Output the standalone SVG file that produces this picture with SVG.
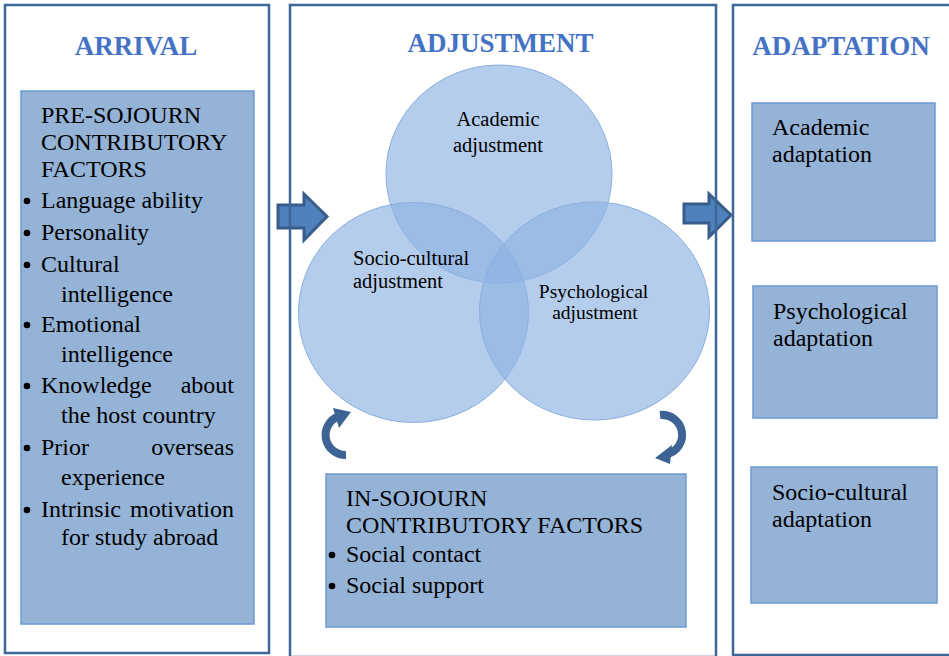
<svg xmlns="http://www.w3.org/2000/svg" width="949" height="656" viewBox="0 0 949 656">
<style>
.panel{fill:none;stroke:#3f6699;stroke-width:2.5}
.box{fill:#95b3d7;stroke:#6b9bd4;stroke-width:1.5}
.title{font-family:"Liberation Serif",serif;font-weight:bold;font-size:27px;fill:#4472c4;text-anchor:middle}
.t{font-family:"Liberation Serif",serif;font-size:24px;fill:#000}
.c{font-family:"Liberation Serif",serif;font-size:20.5px;fill:#000}
.cs{font-family:"Liberation Serif",serif;font-size:19.5px;fill:#000;text-anchor:middle}
.venn{fill:#8db2e2;fill-opacity:0.65;stroke:#8aaedd;stroke-width:1}
.big{fill:#4f81bd;stroke:#385d8a;stroke-width:3;stroke-linejoin:miter}
.curve{fill:none;stroke:#3d6394;stroke-width:8}
.head{fill:#3d6394}
</style>
<rect width="949" height="656" fill="#fff"/>

<g id="connectors">
  <path class="big" d="M278 205 L304 205 L304 194 L327 216.5 L304 240 L304 228 L278 228 Z"/>
  <path class="big" d="M684 204 L709 204 L709 194 L731 215 L709 237 L709 223 L684 223 Z"/>
  <path class="curve" d="M346 455 A 20 20 0 0 1 338 416.5"/>
  <polygon class="head" points="351,412 333,408 339,428"/>
  <path class="curve" d="M660 415 A 20 20 0 0 1 668 454"/>
  <polygon class="head" points="655,458 672,445 670,464"/>
</g>

<g id="arrival">
  <rect class="panel" x="5" y="5" width="264" height="648"/>
  <text class="title" x="136" y="55">ARRIVAL</text>
</g>
<g id="pre-sojourn">
  <rect class="box" x="21" y="91" width="233" height="533"/>
  <text class="t" x="41" y="123">PRE-SOJOURN</text>
  <text class="t" x="41" y="150">CONTRIBUTORY</text>
  <text class="t" x="41" y="177">FACTORS</text>
  <circle cx="27" cy="201" r="3.3"/><text class="t" x="41" y="208">Language ability</text>
  <circle cx="27" cy="233" r="3.3"/><text class="t" x="41" y="240">Personality</text>
  <circle cx="27" cy="265" r="3.3"/><text class="t" x="41" y="272">Cultural</text>
  <text class="t" x="61" y="302">intelligence</text>
  <circle cx="27" cy="325" r="3.3"/><text class="t" x="41" y="332">Emotional</text>
  <text class="t" x="61" y="362">intelligence</text>
  <circle cx="27" cy="386" r="3.3"/><text class="t" x="41" y="393">Knowledge</text><text class="t" x="234" y="393" text-anchor="end">about</text>
  <text class="t" x="61" y="423">the host country</text>
  <circle cx="27" cy="448" r="3.3"/><text class="t" x="41" y="455">Prior</text><text class="t" x="234" y="455" text-anchor="end">overseas</text>
  <text class="t" x="61" y="485">experience</text>
  <circle cx="27" cy="510" r="3.3"/><text class="t" x="41" y="517">Intrinsic</text><text class="t" x="234" y="517" text-anchor="end">motivation</text>
  <text class="t" x="61" y="545">for study abroad</text>
</g>

<g id="adjustment">
  <rect class="panel" x="290" y="5" width="426" height="652"/>
  <text class="title" x="500.5" y="52">ADJUSTMENT</text>
</g>
<g id="academic-adjustment">
  <ellipse class="venn" cx="499" cy="174" rx="113" ry="109"/>
</g>
<g id="socio-cultural-adjustment">
  <ellipse class="venn" cx="413.5" cy="312.5" rx="115" ry="110"/>
</g>
<g id="psychological-adjustment">
  <ellipse class="venn" cx="594.5" cy="311" rx="115" ry="109"/>
</g>
<g id="venn-labels">
  <text class="c" x="498" y="126" text-anchor="middle">Academic</text>
  <text class="c" x="498" y="152" text-anchor="middle">adjustment</text>
  <text class="c" x="353" y="265">Socio-cultural</text>
  <text class="c" x="353" y="288">adjustment</text>
  <text class="cs" x="593.5" y="298">Psychological</text>
  <text class="cs" x="595" y="319">adjustment</text>
</g>
<g id="in-sojourn">
  <rect class="box" x="326" y="474" width="360" height="153"/>
  <text class="t" x="346" y="506">IN-SOJOURN</text>
  <text class="t" x="346" y="533">CONTRIBUTORY FACTORS</text>
  <circle cx="332" cy="555" r="3.3"/><text class="t" x="346" y="562">Social contact</text>
  <circle cx="332" cy="586" r="3.3"/><text class="t" x="346" y="593">Social support</text>
</g>

<g id="adaptation">
  <rect class="panel" x="733" y="5" width="230" height="650"/>
  <text class="title" x="841" y="55">ADAPTATION</text>
</g>
<g id="academic-adaptation">
  <rect class="box" x="752" y="103" width="183" height="138"/>
  <text class="t" x="772" y="135">Academic</text>
  <text class="t" x="772" y="162">adaptation</text>
</g>
<g id="psychological-adaptation">
  <rect class="box" x="753" y="286" width="184" height="132"/>
  <text class="t" x="773" y="319">Psychological</text>
  <text class="t" x="773" y="346">adaptation</text>
</g>
<g id="socio-cultural-adaptation">
  <rect class="box" x="751" y="467" width="186" height="136"/>
  <text class="t" x="772" y="500">Socio-cultural</text>
  <text class="t" x="772" y="527">adaptation</text>
</g>
</svg>
